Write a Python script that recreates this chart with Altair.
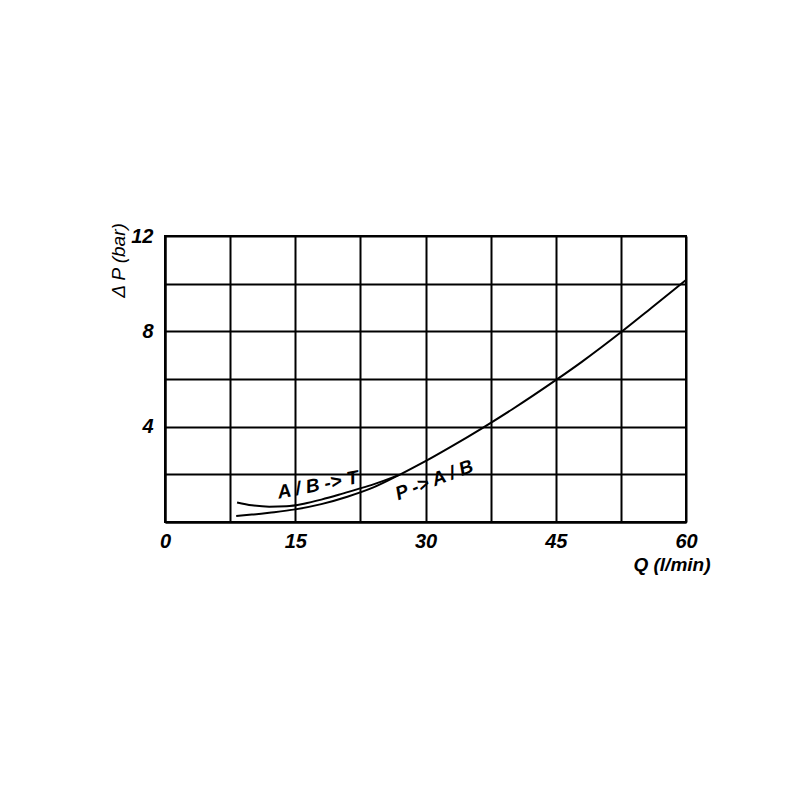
import altair as alt
import pandas as pd

# P -> A/B curve
q_pab = [8.2, 10, 12, 15, 18, 21, 24, 27, 30, 33, 36.5, 40, 45, 48, 52.5, 56, 60]
dp_pab = [0.25, 0.31, 0.39, 0.53, 0.75, 1.06, 1.45, 1.98, 2.55, 3.17, 3.93, 4.73, 5.95, 6.72, 7.96, 8.98, 10.15]
# A/B -> T curve
q_abt = [8.3, 10, 12, 14, 16, 18, 20, 22, 24, 26, 27]
dp_abt = [0.82, 0.70, 0.64, 0.66, 0.77, 0.94, 1.14, 1.36, 1.58, 1.84, 1.99]

label_text = ["A / B -> T", "P -> A / B"]
label_q = [17.6, 31.0]
label_dp = [1.55, 1.76]

x_ticks = [0, 7.5, 15, 22.5, 30, 37.5, 45, 52.5, 60]
y_ticks = [0, 2, 4, 6, 8, 10, 12]

curves = pd.DataFrame(
    {"Q": q_pab + q_abt,
     "dP": dp_pab + dp_abt,
     "series": ["P -> A/B"] * len(q_pab) + ["A/B -> T"] * len(q_abt)}
)
labels = pd.DataFrame({"text": label_text, "Q": label_q, "dP": label_dp})

FONT = "Liberation Sans"

x_enc = alt.X(
    "Q:Q",
    scale=alt.Scale(domain=[0, 60], nice=False),
    axis=alt.Axis(
        values=x_ticks,
        labelExpr="datum.value % 15 === 0 ? datum.label : ''",
        labelFlush=False,
        title="Q (l/min)",
        titleX=545, titleY=42, titleAlign="right", titleBaseline="middle",
        titleAnchor="end",
    ),
)
y_enc = alt.Y(
    "dP:Q",
    scale=alt.Scale(domain=[0, 12], nice=False),
    axis=alt.Axis(
        values=y_ticks,
        labelExpr="(datum.value % 4 === 0 && datum.value > 0) ? datum.label : ''",
        labelFlush=False,
        title="Δ P (bar)",
        titleX=-47, titleY=24, titleAngle=270, titleAlign="center",
        titleBaseline="middle", titleFontWeight="normal",
    ),
)

lines = alt.Chart(curves).mark_line(strokeWidth=2, interpolate="monotone").encode(
    x=x_enc,
    y=y_enc,
    color=alt.Color("series:N", scale=alt.Scale(range=["black", "black"]), legend=None),
    detail="series:N",
)

t1 = alt.Chart(labels[labels.text == "A / B -> T"]).mark_text(
    font=FONT, fontSize=19, fontStyle="italic", fontWeight="bold", angle=349, color="black"
).encode(x="Q:Q", y="dP:Q", text="text:N")
t2 = alt.Chart(labels[labels.text == "P -> A / B"]).mark_text(
    font=FONT, fontSize=19, fontStyle="italic", fontWeight="bold", angle=339, color="black"
).encode(x="Q:Q", y="dP:Q", text="text:N")

chart = (
    alt.layer(lines, t1, t2)
    .properties(
        width=521, height=286,
        autosize=alt.AutoSizeParams(type="none"),
        padding={"left": 157, "top": 228, "right": 106, "bottom": 270},
        background="white",
    )
    .configure_view(stroke="black", strokeWidth=2)
    .configure_axis(
        grid=True, gridColor="black", gridWidth=2, gridOpacity=1,
        domain=True, domainColor="black", domainWidth=2,
        ticks=False,
        labelFont=FONT, labelFontSize=20, labelFontStyle="italic",
        labelFontWeight="bold", labelColor="black",
        titleFont=FONT, titleFontSize=19, titleFontStyle="italic",
        titleFontWeight="bold", titleColor="black",
    )
    .configure_axisX(labelPadding=9)
    .configure_axisY(labelPadding=12)
)

chart.save("out.html", embed_options={"renderer": "svg", "actions": False})
